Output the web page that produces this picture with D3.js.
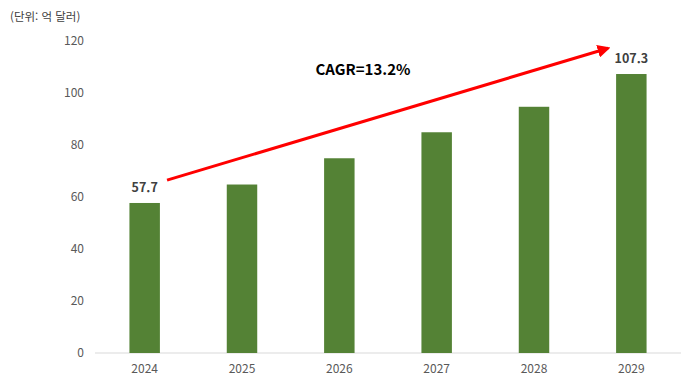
<!DOCTYPE html>
<html lang="ko">
<head>
  <meta charset="UTF-8">
  <title>CAGR</title>
  <script src="https://d3js.org/d3.v7.min.js"></script>
  <style>
    body { margin: 0; background: #fff; }
    svg { font-family: "Noto Sans CJK KR", "Noto Sans", sans-serif; }
  </style>
</head>
<body>
  <div id="chart"></div>
  <script>
    // Data
    const years = ["2024", "2025", "2026", "2027", "2028", "2029"];
    const values = [57.7, 64.8, 74.9, 84.9, 94.7, 107.3];
    const yTicks = [0, 20, 40, 60, 80, 100, 120];
    const labelled = ["2024", "2029"];
    // arrow ends in data units (year band, value)
    const arrowStart = { year: "2024", value: 66.5, shift: 0.23 };
    const arrowEnd = { year: "2029", value: 117.2, shift: -0.24 };
    const cagrText = "CAGR=13.2%";
    const unitText = "(단위: 억 달러)";

    var width = 686, height = 377;
    var margin = { top: 41, right: 6, bottom: 24, left: 96 };

    var svg = d3.select("#chart").append("svg")
      .attr("width", width)
      .attr("height", height);

    var x = d3.scaleBand()
      .domain(years)
      .range([margin.left, width - margin.right])
      .paddingInner(0.687)
      .paddingOuter(0.3435);

    var y = d3.scaleLinear()
      .domain([0, 120])
      .range([height - margin.bottom, margin.top]);

    // unit label
    svg.append("text")
      .attr("x", 10)
      .attr("y", 21)
      .attr("font-size", 11.5)
      .attr("fill", "#404040")
      .text(unitText);

    // baseline
    svg.append("line")
      .attr("x1", margin.left - 1)
      .attr("x2", width - margin.right + 1)
      .attr("y1", y(0))
      .attr("y2", y(0))
      .attr("stroke", "#d9d9d9")
      .attr("stroke-width", 1);

    // y tick labels
    svg.append("g")
      .selectAll("text")
      .data(yTicks)
      .enter()
      .append("text")
      .attr("x", 84)
      .attr("y", d => y(d))
      .attr("dy", "0.35em")
      .attr("text-anchor", "end")
      .attr("font-size", 12)
      .attr("fill", "#595959")
      .text(d => d);

    // x tick labels
    svg.append("g")
      .selectAll("text")
      .data(years)
      .enter()
      .append("text")
      .attr("x", d => x(d) + x.bandwidth() / 2)
      .attr("y", y(0) + 20)
      .attr("text-anchor", "middle")
      .attr("font-size", 12)
      .attr("fill", "#595959")
      .text(d => d);

    // bars
    svg.append("g")
      .selectAll("rect")
      .data(years)
      .enter()
      .append("rect")
      .attr("x", d => x(d))
      .attr("y", (d, i) => y(values[i]))
      .attr("width", x.bandwidth())
      .attr("height", (d, i) => y(0) - y(values[i]))
      .attr("fill", "#548235");

    // value labels on first and last bar
    svg.append("g")
      .selectAll("text")
      .data(years.filter(d => labelled.includes(d)))
      .enter()
      .append("text")
      .attr("x", d => x(d) + x.bandwidth() / 2)
      .attr("y", d => y(values[years.indexOf(d)]) - 11)
      .attr("text-anchor", "middle")
      .attr("font-size", 12.5)
      .attr("font-weight", 600)
      .attr("fill", "#404040")
      .text(d => values[years.indexOf(d)]);

    // arrow
    svg.append("defs").append("marker")
      .attr("id", "head")
      .attr("viewBox", "0 0 10 10")
      .attr("refX", 8)
      .attr("refY", 5)
      .attr("markerWidth", 4.3)
      .attr("markerHeight", 4.3)
      .attr("orient", "auto")
      .append("path")
      .attr("d", "M0,0L10,5L0,10z")
      .attr("fill", "#ff0000");

    var step = x.step();
    svg.append("line")
      .attr("x1", x(arrowStart.year) + x.bandwidth() / 2 + arrowStart.shift * step)
      .attr("y1", y(arrowStart.value))
      .attr("x2", x(arrowEnd.year) + x.bandwidth() / 2 + arrowEnd.shift * step)
      .attr("y2", y(arrowEnd.value))
      .attr("stroke", "#ff0000")
      .attr("stroke-width", 3)
      .attr("marker-end", "url(#head)");

    // CAGR label
    svg.append("text")
      .attr("x", 363)
      .attr("y", 75)
      .attr("text-anchor", "middle")
      .attr("font-size", 15)
      .attr("font-weight", "bold")
      .attr("fill", "#000")
      .text(cagrText);
  </script>
</body>
</html>
